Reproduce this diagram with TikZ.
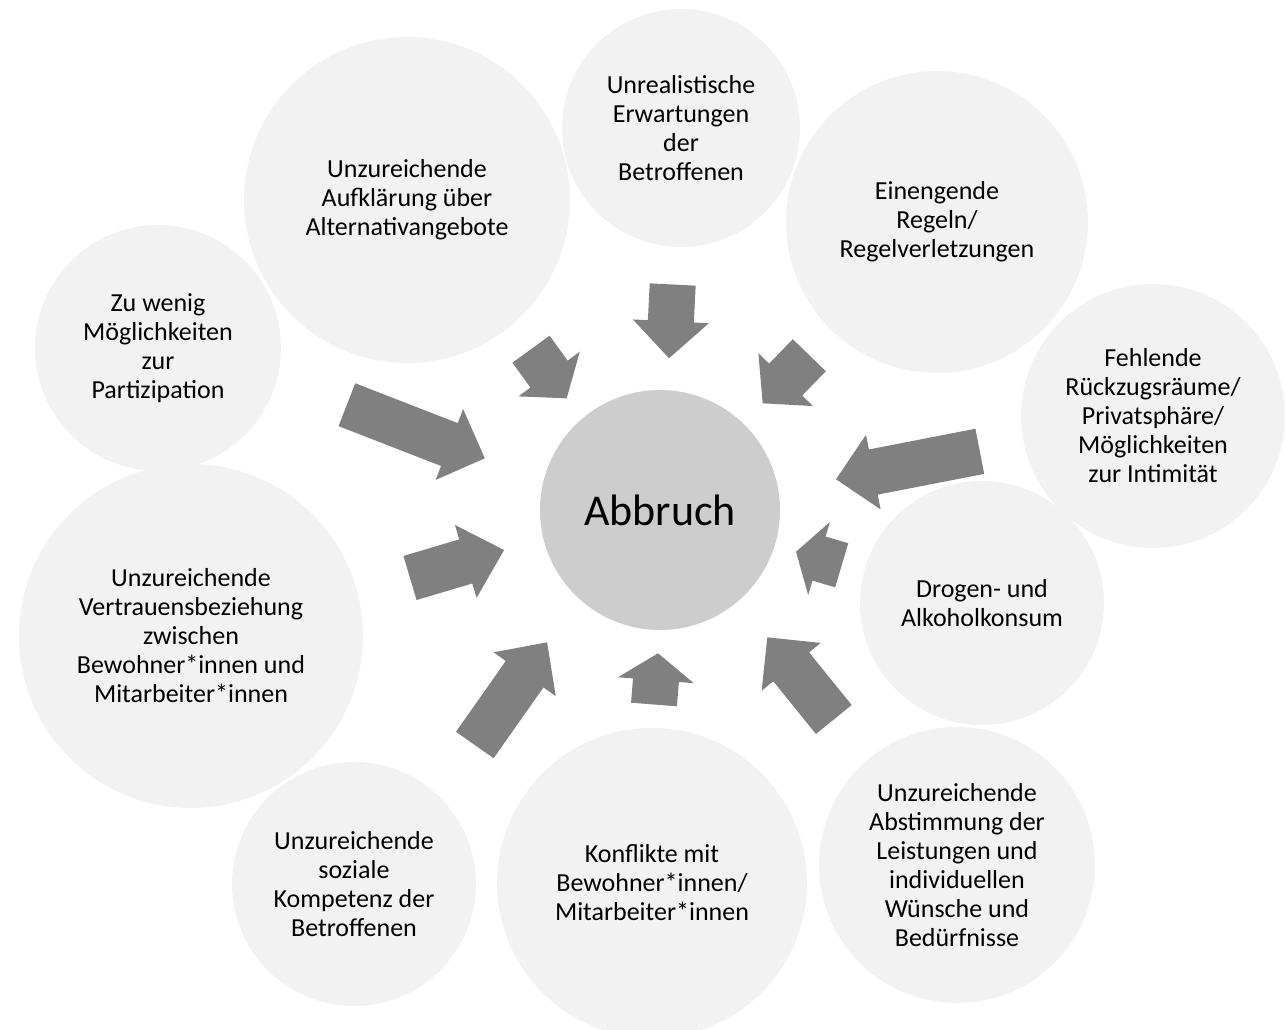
\documentclass[tikz,border=0pt]{standalone}
\usepackage{fontspec}
\setmainfont{Carlito}
\usetikzlibrary{calc}
\definecolor{ringgray}{RGB}{242,242,242}
\definecolor{hubgray}{RGB}{206,205,206}
\definecolor{arrgray}{RGB}{128,128,128}
% block arrow: tail, tip, head length
\newcommand{\blockarrow}[3]{%
  \coordinate (hb) at ($(#2)!#3!(#1)$);
  \fill[barr] ($(#1)!23pt!90:(#2)$) -- ($(hb)!23pt!90:(#2)$) -- ($(hb)!38pt!90:(#2)$)
    -- (#2) -- ($(hb)!38pt!-90:(#2)$) -- ($(hb)!23pt!-90:(#2)$) -- ($(#1)!23pt!-90:(#2)$) -- cycle;}
\tikzset{
  ring/.style={circle, fill=ringgray, inner sep=0pt, align=center, font=\fontsize{26}{29}\selectfont},
  hub/.style={circle, fill=hubgray, inner sep=0pt, font=\fontsize{44}{50}\selectfont},
  barr/.style={fill=arrgray},
}

\begin{document}
\begin{tikzpicture}[x=1pt, y=-1pt]
\useasboundingbox (0,0) rectangle (1286,1029);
% outer causes
\node[ring, minimum size=238pt] (erwart) at (681,128) {Unrealistische\\Erwartungen\\der\\Betroffenen};
\node[ring, minimum size=302pt] (regeln) at (937,222) {Einengende\\Regeln/\\Regelverletzungen};
\node[ring, minimum size=264pt] (rueckzug) at (1153,416) {Fehlende\\Rückzugsräume/\\Privatsphäre/\\Möglichkeiten\\zur Intimität};
\node[ring, minimum size=244pt] (drogen) at (982,603) {Drogen- und\\Alkoholkonsum};
\node[ring, minimum size=276pt] (abstimm) at (957,865) {Unzureichende\\Abstimmung der\\Leistungen und\\individuellen\\Wünsche und\\Bedürfnisse};
\node[ring, minimum size=310pt] (konflikt) at (652,883) {Konflikte mit\\Bewohner*innen/\\Mitarbeiter*innen};
\node[ring, minimum size=244pt] (sozial) at (354,884) {Unzureichende\\soziale\\Kompetenz der\\Betroffenen};
\node[ring, minimum size=344pt] (vertrauen) at (191,636) {Unzureichende\\Vertrauensbeziehung\\zwischen\\Bewohner*innen und\\Mitarbeiter*innen};
\node[ring, minimum size=246pt] (partizip) at (158,348) {Zu wenig\\Möglichkeiten\\zur\\Partizipation};
\node[ring, minimum size=326pt] (aufkl) at (407,200) {Unzureichende\\Aufklärung über\\Alternativangebote};
% centre
\node[hub, minimum size=240pt] (abbruch) at (660,510) {Abbruch};
% arrow ends
\coordinate (erwart-t) at (672.7,284.5);   \coordinate (erwart-p) at (669,358.3);
\coordinate (regeln-t) at (809.3,355.2);   \coordinate (regeln-p) at (762.7,403.3);
\coordinate (rueckzug-t) at (979.8,451.3); \coordinate (rueckzug-p) at (836,479.3);
\coordinate (drogen-t) at (841.7,565.3);   \coordinate (drogen-p) at (796,551.7);
\coordinate (abstimm-t) at (833.8,719.5);  \coordinate (abstimm-p) at (767.3,637.3);
\coordinate (konflikt-t) at (654,704.5);   \coordinate (konflikt-p) at (658,653.3);
\coordinate (sozial-t) at (474.8,745);     \coordinate (sozial-p) at (547.1,642.3);
\coordinate (vertrauen-t) at (410,578);    \coordinate (vertrauen-p) at (504.1,550);
\coordinate (partizip-t) at (346.9,404.7); \coordinate (partizip-p) at (484.8,458.3);
\coordinate (aufkl-t) at (531,349.2);      \coordinate (aufkl-p) at (566.7,398.3);
\blockarrow{erwart-t}{erwart-p}{37pt}
\blockarrow{regeln-t}{regeln-p}{33pt}
\blockarrow{rueckzug-t}{rueckzug-p}{38pt}
\blockarrow{drogen-t}{drogen-p}{24pt}
\blockarrow{abstimm-t}{abstimm-p}{38pt}
\blockarrow{konflikt-t}{konflikt-p}{27pt}
\blockarrow{sozial-t}{sozial-p}{39pt}
\blockarrow{vertrauen-t}{vertrauen-p}{40pt}
\blockarrow{partizip-t}{partizip-p}{38pt}
\blockarrow{aufkl-t}{aufkl-p}{30pt}
\end{tikzpicture}
\end{document}
